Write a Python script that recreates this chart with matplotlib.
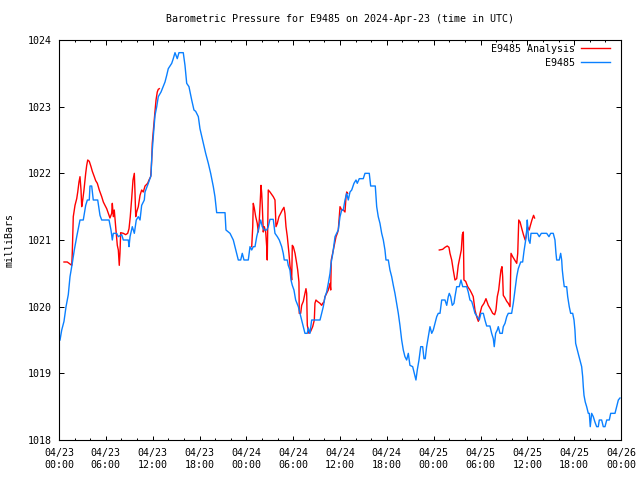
import matplotlib
matplotlib.use("Agg")
import matplotlib.pyplot as plt
from matplotlib.ticker import MultipleLocator, FixedLocator
import numpy as np

# ---- data (hours since 2024-04-23 00:00 UTC, pressure in mbar) ----
station_hours = [
    0.13, 0.35, 0.64, 0.9, 1.19, 1.41, 1.70, 1.96, 2.27, 2.69, 3.11, 3.42, 3.63, 3.88, 3.97, 4.19,
    4.39, 4.96, 5.25, 5.47, 6.41, 6.66, 6.83, 6.96, 7.39, 7.60, 8.03, 8.24, 8.88, 8.97, 9.10, 9.39,
    9.65, 9.90, 10.16, 10.38, 10.59, 10.93, 11.02, 11.44, 11.79, 11.88, 12.08, 12.30, 12.52, 12.72,
    13.07, 13.58, 13.80, 14.0, 14.44, 14.64, 14.86, 15.15, 15.37, 15.92, 16.14, 16.36, 16.65, 17.0,
    17.29, 17.51, 17.85, 18.06, 18.49, 18.79, 19.13, 19.43, 19.77, 19.98, 20.20, 21.27, 21.39, 21.91,
    22.33, 22.76, 22.97, 23.28, 23.48, 23.70, 24.25, 24.47, 24.69, 24.89, 25.11, 25.33, 25.53, 25.84,
    26.04, 26.30, 26.61, 26.81, 27.03, 27.45, 27.67, 27.97, 28.22, 28.53, 28.73, 28.86, 29.25, 29.37,
    29.59, 29.72, 29.89, 30.10, 30.32, 30.66, 30.87, 31.09, 31.30, 31.51, 31.81, 31.94, 32.15, 32.37,
    33.44, 33.65, 33.86, 34.08, 34.29, 34.50, 34.72, 34.85, 35.01, 35.14, 35.36, 35.57, 35.78, 36.0,
    36.22, 36.42, 36.64, 36.86, 37.06, 37.28, 37.50, 37.79, 38.05, 38.21, 38.47, 38.98, 39.20, 39.75,
    39.93, 40.52, 40.70, 40.90, 41.12, 41.34, 41.55, 41.76, 41.89, 42.19, 42.40, 42.62, 42.83, 43.04,
    43.26, 43.47, 43.68, 43.90, 44.11, 44.32, 44.54, 44.75, 44.96, 45.31, 45.48, 45.73, 45.90, 46.12,
    46.34, 46.59, 46.76, 46.92, 47.10, 47.31, 47.53, 47.75, 47.95, 48.17, 48.39, 48.59, 48.81, 49.03,
    49.45, 49.67, 49.87, 50.0, 50.18, 50.38, 50.60, 50.73, 50.95, 51.28, 51.50, 51.72, 52.23, 52.43,
    52.65, 52.87, 53.07, 53.29, 53.59, 53.84, 54.06, 54.36, 54.57, 54.79, 55.21, 55.43, 55.64, 55.76,
    55.94, 56.15, 56.28, 56.49, 56.79, 56.92, 57.14, 57.36, 57.56, 57.99, 58.20, 58.42, 58.64, 58.84,
    59.15, 59.40, 59.57, 59.79, 59.92, 59.99, 60.17, 60.34, 60.47, 60.68, 61.27, 61.53, 61.79, 62.48,
    62.77, 62.99, 63.32, 63.54, 63.67, 63.76, 64.09, 64.27, 64.40, 64.48, 64.60, 64.73, 65.04, 65.17,
    65.37, 65.55, 65.81, 65.98, 66.10, 66.19, 66.40, 66.58, 66.74, 66.96, 67.09, 67.17, 67.26, 67.42,
    67.60, 67.81, 67.94, 68.06, 68.24, 68.45, 68.66, 68.88, 69.09, 69.22, 69.52, 69.73, 69.95, 70.17,
    70.50, 70.68, 71.23, 71.45, 71.66, 71.87,
]
station_mbar = [
    1019.5, 1019.65, 1019.78, 1020.0, 1020.18, 1020.45, 1020.65, 1020.85, 1021.05, 1021.3, 1021.3, 1021.52, 1021.6, 1021.6, 1021.81, 1021.81,
    1021.6, 1021.6, 1021.37, 1021.3, 1021.3, 1021.15, 1021.0, 1021.1, 1021.1, 1021.05, 1021.08, 1021.0, 1021.0, 1020.9, 1021.05, 1021.2,
    1021.1, 1021.3, 1021.35, 1021.3, 1021.52, 1021.6, 1021.72, 1021.85, 1021.97, 1022.23, 1022.55, 1022.87, 1023.0, 1023.15,
    1023.22, 1023.37, 1023.47, 1023.57, 1023.65, 1023.72, 1023.81, 1023.72, 1023.81, 1023.81, 1023.62, 1023.35, 1023.3, 1023.1,
    1022.95, 1022.93, 1022.85, 1022.67, 1022.45, 1022.3, 1022.15, 1022.0, 1021.8, 1021.65, 1021.41, 1021.41, 1021.15, 1021.1,
    1021.0, 1020.8, 1020.7, 1020.7, 1020.8, 1020.7, 1020.7, 1020.9, 1020.85, 1020.9, 1020.9, 1021.05, 1021.15, 1021.3,
    1021.2, 1021.15, 1021.15, 1021.2, 1021.31, 1021.31, 1021.1, 1021.05, 1021.0, 1020.9, 1020.8, 1020.7, 1020.7, 1020.62,
    1020.55, 1020.4, 1020.32, 1020.25, 1020.1, 1020.0, 1019.9, 1019.8, 1019.7, 1019.6, 1019.6, 1019.68, 1019.6, 1019.8,
    1019.8, 1019.9, 1020.0, 1020.15, 1020.22, 1020.35, 1020.5, 1020.65, 1020.75, 1020.85, 1021.05, 1021.1, 1021.15, 1021.35,
    1021.45, 1021.45, 1021.6, 1021.7, 1021.6, 1021.72, 1021.75, 1021.85, 1021.9, 1021.85, 1021.92, 1021.92, 1022.0, 1022.0,
    1021.81, 1021.81, 1021.5, 1021.35, 1021.25, 1021.1, 1021.0, 1020.85, 1020.7, 1020.7, 1020.55, 1020.45, 1020.32, 1020.2,
    1020.05, 1019.9, 1019.72, 1019.5, 1019.35, 1019.25, 1019.2, 1019.3, 1019.12, 1019.1, 1019.02, 1018.9, 1019.05, 1019.2,
    1019.4, 1019.4, 1019.22, 1019.22, 1019.4, 1019.55, 1019.7, 1019.6, 1019.65, 1019.75, 1019.85, 1019.9, 1019.9, 1020.1,
    1020.1, 1020.02, 1020.15, 1020.2, 1020.15, 1020.02, 1020.05, 1020.15, 1020.3, 1020.3, 1020.4, 1020.3, 1020.3, 1020.22,
    1020.1, 1020.08, 1020.0, 1019.9, 1019.85, 1019.8, 1019.9, 1019.9, 1019.8, 1019.71, 1019.71, 1019.6, 1019.52, 1019.4,
    1019.6, 1019.65, 1019.7, 1019.6, 1019.6, 1019.7, 1019.75, 1019.85, 1019.9, 1019.9, 1020.05, 1020.25, 1020.45, 1020.57,
    1020.67, 1020.67, 1020.83, 1021.0, 1021.15, 1021.3, 1021.0, 1020.95, 1021.1, 1021.1, 1021.1, 1021.05, 1021.1, 1021.1,
    1021.05, 1021.1, 1021.1, 1021.0, 1020.8, 1020.7, 1020.7, 1020.8, 1020.7, 1020.55, 1020.42, 1020.3, 1020.3, 1020.15,
    1020.0, 1019.9, 1019.9, 1019.8, 1019.65, 1019.45, 1019.35, 1019.27, 1019.2, 1019.1, 1018.95, 1018.8, 1018.67, 1018.57,
    1018.5, 1018.4, 1018.4, 1018.2, 1018.4, 1018.35, 1018.27, 1018.2, 1018.2, 1018.3, 1018.3, 1018.2, 1018.2, 1018.3,
    1018.3, 1018.4, 1018.4, 1018.5, 1018.6, 1018.63,
]

analysis_hours_1 = [
    0.64, 1.06, 1.41, 1.63, 1.70, 1.83, 2.05, 2.27, 2.40, 2.56, 2.69, 2.82, 2.91, 3.04, 3.20, 3.42,
    3.55, 3.68, 3.88, 4.10, 4.27, 4.52, 4.70, 4.91, 5.16, 5.47, 5.68, 5.89, 6.11, 6.32, 6.53, 6.75,
    6.83, 6.96, 7.08, 7.26, 7.47, 7.60, 7.72, 7.81, 7.90, 8.24, 8.54, 8.80, 8.97, 9.13, 9.31, 9.48,
    9.65, 9.74, 9.83, 9.95, 10.16, 10.38, 10.59, 10.80, 11.02, 11.36, 11.53, 11.75, 11.88, 11.95,
    12.13, 12.30, 12.43, 12.59, 12.72, 12.85,
]
analysis_mbar_1 = [
    1020.67, 1020.67, 1020.64, 1020.62, 1020.8, 1021.35, 1021.52, 1021.62, 1021.72, 1021.87, 1021.95, 1021.75, 1021.5, 1021.6, 1021.75, 1022.0,
    1022.12, 1022.2, 1022.18, 1022.1, 1022.03, 1021.95, 1021.89, 1021.85, 1021.75, 1021.65, 1021.57, 1021.52, 1021.47, 1021.4, 1021.33, 1021.4,
    1021.55, 1021.35, 1021.45, 1021.2, 1020.92, 1020.85, 1020.62, 1020.8, 1021.11, 1021.1, 1021.08, 1021.1, 1021.17, 1021.35, 1021.62, 1021.9,
    1022.0, 1021.7, 1021.35, 1021.42, 1021.5, 1021.67, 1021.75, 1021.72, 1021.81, 1021.85, 1021.9, 1021.95, 1022.2, 1022.45,
    1022.7, 1022.93, 1023.1, 1023.22, 1023.26, 1023.27,
]
analysis_hours_2 = [
    24.69, 24.82, 24.89, 25.02, 25.20, 25.40, 25.53, 25.66, 25.75, 25.88, 25.97, 26.05, 26.17, 26.30, 26.48, 26.61,
    26.68, 26.81, 27.03, 27.45, 27.67, 27.80, 27.97, 28.18, 28.40, 28.61, 28.82, 28.95, 29.08, 29.25, 29.46, 29.59,
    29.72, 29.81, 29.89, 30.02, 30.24, 30.45, 30.58, 30.74, 30.78, 30.96, 31.09, 31.30, 31.51, 31.64, 31.73, 31.81,
    32.02, 32.24, 32.50, 32.71, 32.79, 32.92, 33.09, 33.44, 33.65, 33.78, 33.95, 34.08, 34.29, 34.50, 34.72, 34.81,
    34.88, 35.06, 35.23, 35.49, 35.66, 35.78, 35.91, 36.0, 36.22, 36.42, 36.64, 36.77, 36.86, 36.98,
]
analysis_mbar_2 = [
    1020.9, 1021.2, 1021.55, 1021.48, 1021.35, 1021.25, 1021.12, 1021.3, 1021.5, 1021.82, 1021.7, 1021.5, 1021.12, 1021.2, 1021.12, 1020.9,
    1020.7, 1021.75, 1021.72, 1021.65, 1021.6, 1021.2, 1021.25, 1021.35, 1021.4, 1021.45, 1021.49, 1021.4, 1021.2, 1021.05, 1020.8, 1020.62,
    1020.5, 1020.4, 1020.92, 1020.9, 1020.8, 1020.65, 1020.55, 1020.37, 1019.9, 1019.9, 1020.02, 1020.08, 1020.2, 1020.27, 1020.2, 1019.72,
    1019.6, 1019.63, 1019.7, 1019.8, 1020.05, 1020.1, 1020.08, 1020.05, 1020.02, 1020.05, 1020.07, 1020.15, 1020.2, 1020.25, 1020.35, 1020.25,
    1020.7, 1020.8, 1020.9, 1021.05, 1021.1, 1021.15, 1021.35, 1021.5, 1021.45, 1021.45, 1021.42, 1021.65, 1021.72, 1021.7,
]
analysis_hours_3 = [
    48.72, 49.15, 49.45, 49.74, 49.96, 50.09, 50.31, 50.51, 50.73, 50.95, 51.15, 51.37, 51.54, 51.67, 51.80, 51.88,
    52.10, 52.36, 52.65, 52.87, 53.07, 53.29, 53.51, 53.72, 53.94, 54.16, 54.45, 54.70, 55.0, 55.30, 55.56, 55.81,
    55.98, 56.15, 56.33, 56.49, 56.62, 56.75, 56.84, 56.92, 57.14, 57.36, 57.56, 57.78, 57.91, 58.12, 58.38, 58.64,
    58.77, 58.90, 59.07, 59.29, 59.50, 59.72, 59.85, 60.02, 60.24, 60.37, 60.59, 60.80, 60.93,
]
analysis_mbar_3 = [
    1020.85, 1020.86, 1020.89, 1020.91, 1020.89, 1020.8, 1020.7, 1020.55, 1020.4, 1020.42, 1020.62, 1020.75, 1020.85, 1021.08, 1021.12, 1020.4,
    1020.38, 1020.3, 1020.25, 1020.2, 1020.15, 1019.95, 1019.85, 1019.78, 1019.9, 1020.0, 1020.05, 1020.12, 1020.02, 1019.96, 1019.9, 1019.88,
    1019.95, 1020.15, 1020.25, 1020.42, 1020.55, 1020.6, 1020.45, 1020.17, 1020.13, 1020.08, 1020.05, 1020.0, 1020.8, 1020.75, 1020.7, 1020.65,
    1020.8, 1021.3, 1021.27, 1021.17, 1021.08, 1021.0, 1021.05, 1021.2, 1021.15, 1021.21, 1021.3, 1021.37, 1021.33,
]

tick_hours = [0, 6, 12, 18, 24, 30, 36, 42, 48, 54, 60, 66, 72]
tick_labels = ["04/23\n00:00", "04/23\n06:00", "04/23\n12:00", "04/23\n18:00",
               "04/24\n00:00", "04/24\n06:00", "04/24\n12:00", "04/24\n18:00",
               "04/25\n00:00", "04/25\n06:00", "04/25\n12:00", "04/25\n18:00",
               "04/26\n00:00"]
y_ticks = [1018, 1019, 1020, 1021, 1022, 1023, 1024]

title = "Barometric Pressure for E9485 on 2024-Apr-23 (time in UTC)"
ylabel = "milliBars"
red = "#ff0000"
blue = "#0a80ff"

plt.rcParams['font.family'] = ['DejaVu Sans Mono']
fs = 7.2

fig = plt.figure(figsize=(6.4, 4.8), dpi=100)
ax = fig.add_axes([59/640, 40/480, 562/640, 400/480])

segs = [(analysis_hours_1, analysis_mbar_1), (analysis_hours_2, analysis_mbar_2),
        (analysis_hours_3, analysis_mbar_3)]
for i, (h, v) in enumerate(segs):
    ax.plot(h, v, color=red, lw=1.0, label="E9485 Analysis" if i == 0 else None)
ax.plot(station_hours, station_mbar, color=blue, lw=1.0, label="E9485")

ax.set_xlim(0, 72)
ax.set_ylim(1018, 1024)
ax.xaxis.set_major_locator(FixedLocator(tick_hours))
ax.set_xticklabels(tick_labels, fontsize=fs, linespacing=1.2)
ax.xaxis.set_minor_locator(MultipleLocator(2))
ax.set_yticks(y_ticks)
ax.set_yticklabels([str(t) for t in y_ticks], fontsize=fs)
ax.tick_params(axis='x', which='major', direction='in', length=4.5*0.72, width=0.72,
               top=True, bottom=True, pad=6)
ax.tick_params(axis='x', which='minor', direction='in', length=2.5*0.72, width=0.72,
               top=True, bottom=True)
ax.tick_params(axis='y', which='major', direction='in', length=5*0.72, width=0.72,
               left=True, right=True, pad=5)
for s in ax.spines.values():
    s.set_linewidth(0.8)

fig.text(340/640, 1 - 19/480, title, ha='center', va='center', fontsize=fs)
fig.text(10/640, 1 - 240/480, ylabel, ha='center', va='center', rotation=90, fontsize=fs)

leg = ax.legend(loc='upper right', bbox_to_anchor=(1 - 11/562, 1 - 4/400),
                frameon=False, markerfirst=False, fontsize=fs, borderpad=0,
                borderaxespad=0, handlelength=2.9, handletextpad=0.6, labelspacing=0.4)
for t in leg.get_texts():
    t.set_ha('right')

fig.savefig("out.png", dpi=100)
